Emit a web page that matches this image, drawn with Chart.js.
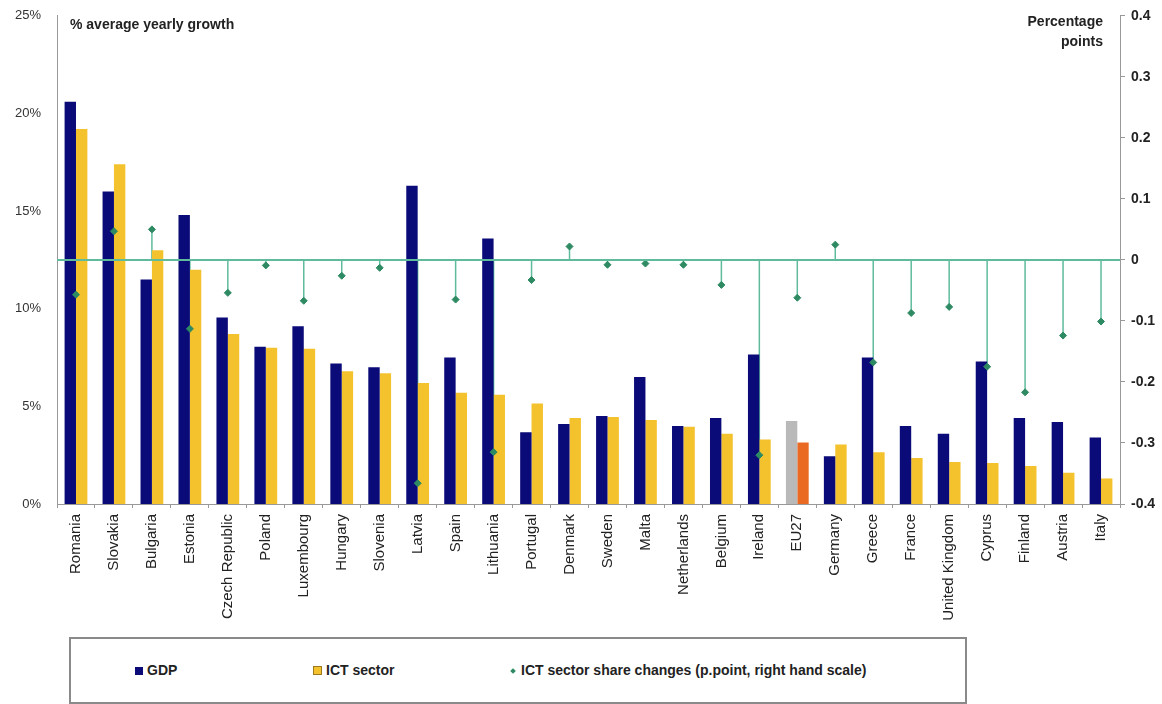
<!DOCTYPE html>
<html>
<head>
<meta charset="utf-8">
<script src="https://cdn.jsdelivr.net/npm/chart.js@4"></script>
<style>
  body { margin: 0; background: #fff; font-family: 'Liberation Sans', Arial, sans-serif; }
  #wrap { position: relative; width: 1162px; height: 704px; }
  #chart { position: absolute; left: 0; top: 0; }
  .note { position: absolute; font-weight: bold; font-size: 14px; color: #222; }
  #legend { position: absolute; left: 69px; top: 637px; width: 894px; height: 63px; border: 2px solid #8a8a8a; }
  .item { position: absolute; top: 23px; font-weight: bold; font-size: 14px; color: #222; }
  .sw { display: inline-block; width: 8px; height: 8px; margin-right: 4px; vertical-align: 0px; }
  .dia { display: inline-block; width: 4px; height: 4px; margin: 0 6px 1px 2px; background: #2e8a62; transform: rotate(45deg); vertical-align: 1px; }
</style>
</head>
<body>
<div id="wrap">
  <canvas id="chart" width="1162" height="632"></canvas>
  <div class="note" style="left:70px; top:16px;">% average yearly growth</div>
  <div class="note" style="right:59px; top:11px; text-align:right; line-height:20px;">Percentage<br>points</div>
  <div id="legend">
    <div class="item" style="left:64px;"><span class="sw" style="background:#0a0a78"></span>GDP</div>
    <div class="item" style="left:242px;"><span class="sw" style="background:#f4c22c; border:1px solid #9c7a1c; width:7px; height:7px"></span>ICT sector</div>
    <div class="item" style="left:438px;"><span class="dia"></span>ICT sector share changes (p.point, right hand scale)</div>
  </div>
</div>
<script>
// pays, ordre du graphique
const categories = ['Romania', 'Slovakia', 'Bulgaria', 'Estonia', 'Czech Republic', 'Poland', 'Luxembourg',
  'Hungary', 'Slovenia', 'Latvia', 'Spain', 'Lithuania', 'Portugal', 'Denmark', 'Sweden', 'Malta',
  'Netherlands', 'Belgium', 'Ireland', 'EU27', 'Germany', 'Greece', 'France', 'United Kingdom',
  'Cyprus', 'Finland', 'Austria', 'Italy'];
const gdpGrowth = [20.6, 16.0, 11.5, 14.8, 9.55, 8.05, 9.1, 7.2, 7.0, 16.3, 7.5, 13.6, 3.67, 4.1,
  4.5, 6.5, 4.0, 4.4, 7.65, 4.25, 2.45, 7.5, 4.0, 3.6, 7.3, 4.4, 4.2, 3.4];
const ictGrowth = [19.2, 17.4, 13.0, 12.0, 8.7, 8.0, 7.95, 6.8, 6.7, 6.2, 5.7, 5.6, 5.15, 4.4,
  4.45, 4.3, 3.95, 3.6, 3.3, 3.15, 3.05, 2.65, 2.35, 2.15, 2.1, 1.95, 1.6, 1.3];
const shareChange = [-0.057, 0.047, 0.05, -0.113, -0.054, -0.009, -0.067, -0.026, -0.013, -0.366,
  -0.065, -0.315, -0.033, 0.022, -0.008, -0.006, -0.008, -0.041, -0.32, -0.062, 0.025, -0.168,
  -0.087, -0.077, -0.175, -0.217, -0.124, -0.101];
const leftTicks = [0, 5, 10, 15, 20, 25];
const rightTicks = [-0.4, -0.3, -0.2, -0.1, 0, 0.1, 0.2, 0.3, 0.4];

const FONT = "'Liberation Sans', Arial, sans-serif";
const GREEN_LINE = '#5fbb9c';

const gdpColors = categories.map(c => c === 'EU27' ? '#b9b9b9' : '#0a0a78');
const ictColors = categories.map(c => c === 'EU27' ? '#ea6a24' : '#f4c22c');

// tiges et ligne du zéro pour la série de droite
const stems = {
  id: 'stems',
  beforeDatasetsDraw(chart) {
    const { ctx, scales } = chart;
    const y0 = scales.y2.getPixelForValue(0);
    ctx.save();
    ctx.strokeStyle = GREEN_LINE;
    ctx.lineWidth = 1.5;
    shareChange.forEach((v, i) => {
      const x = scales.x.getPixelForValue(i);
      ctx.beginPath();
      ctx.moveTo(x, y0);
      ctx.lineTo(x, scales.y2.getPixelForValue(v));
      ctx.stroke();
    });
    ctx.restore();
  },
  afterDatasetsDraw(chart) {
    const { ctx, chartArea, scales } = chart;
    const y0 = scales.y2.getPixelForValue(0);
    ctx.save();
    ctx.strokeStyle = GREEN_LINE;
    ctx.lineWidth = 2;
    ctx.beginPath();
    ctx.moveTo(chartArea.left, y0);
    ctx.lineTo(chartArea.right, y0);
    ctx.stroke();
    ctx.restore();
  }
};

new Chart(document.getElementById('chart').getContext('2d'), {
  data: {
    labels: categories,
    datasets: [
      {
        type: 'line',
        label: 'ICT sector share changes (p.point, right hand scale)',
        data: shareChange,
        yAxisID: 'y2',
        showLine: false,
        pointStyle: 'rectRot',
        pointRadius: 3.5,
        pointBackgroundColor: '#2e8a62',
        pointBorderColor: '#2e8a62',
        order: 0
      },
      {
        type: 'bar',
        label: 'GDP',
        data: gdpGrowth,
        yAxisID: 'y',
        backgroundColor: gdpColors,
        categoryPercentage: 0.6,
        barPercentage: 1.0,
        order: 1
      },
      {
        type: 'bar',
        label: 'ICT sector',
        data: ictGrowth,
        yAxisID: 'y',
        backgroundColor: ictColors,
        categoryPercentage: 0.6,
        barPercentage: 1.0,
        order: 1
      }
    ]
  },
  options: {
    responsive: false,
    animation: false,
    layout: { padding: { top: 14, left: 0, right: 0, bottom: 0 } },
    plugins: { legend: { display: false }, tooltip: { enabled: false } },
    scales: {
      x: {
        offset: true,
        grid: { display: true, drawOnChartArea: false, offset: true, tickLength: 4, color: '#999' },
        border: { color: '#999', width: 1 },
        ticks: {
          autoSkip: false, minRotation: 90, maxRotation: 90, padding: 6,
          color: '#222', font: { family: FONT, size: 15 }
        },
        afterFit: s => { s.height = 128; }
      },
      y: {
        position: 'left',
        min: 0, max: 25,
        afterBuildTicks: s => { s.ticks = leftTicks.map(v => ({ value: v })); },
        grid: { display: false },
        border: { color: '#999', width: 1 },
        ticks: { color: '#333', padding: 8, font: { family: FONT, size: 13 }, callback: v => v + '%' },
        afterFit: s => { s.width = 57; }
      },
      y2: {
        position: 'right',
        min: -0.4, max: 0.4,
        afterBuildTicks: s => { s.ticks = rightTicks.map(v => ({ value: v })); },
        grid: { display: true, drawOnChartArea: false, tickLength: 5, color: '#999' },
        border: { color: '#999', width: 1 },
        ticks: {
          color: '#222', padding: 6, font: { family: FONT, size: 14, weight: 'bold' },
          callback: v => { const r = Math.round(v * 10) / 10; return r === 0 ? '0' : r.toFixed(1); }
        },
        afterFit: s => { s.width = 42; }
      }
    }
  },
  plugins: [stems]
});
</script>
</body>
</html>
